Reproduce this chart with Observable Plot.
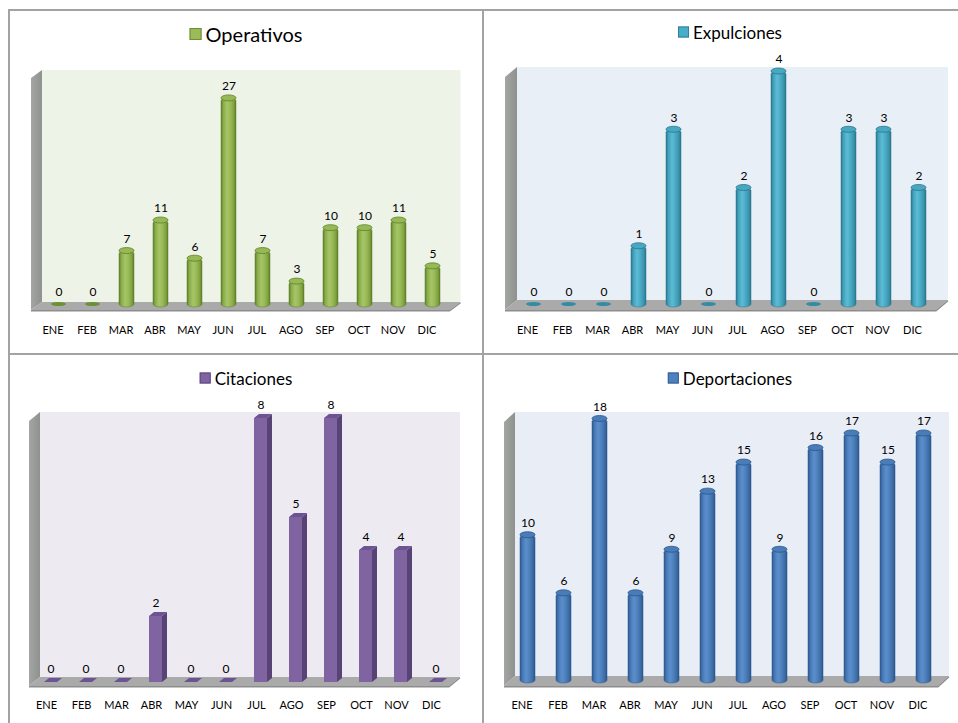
<!DOCTYPE html>
<html><head><meta charset="utf-8">
<script src="https://cdn.jsdelivr.net/npm/d3@7"></script>
<script src="https://cdn.jsdelivr.net/npm/@observablehq/plot@0.6"></script>
<style>
body{margin:0;background:#fff;font-family:Lato,sans-serif;}
#root{position:relative;width:958px;height:723px;overflow:hidden;background:#fff;}
.line{position:absolute;background:#a3a3a3;}
.panel{position:absolute;}
.legend{position:absolute;display:flex;align-items:center;white-space:nowrap;transform:translate(-50%,-50%);color:#000;font-family:Lato,sans-serif;}
.sw{display:inline-block;margin-right:4px;box-sizing:border-box;}
</style></head><body>
<svg width="0" height="0" style="position:absolute"><defs>
<linearGradient id="grad-op" x1="0" x2="1" y1="0" y2="0">
<stop offset="0" stop-color="#5f7f2a"/><stop offset="0.15" stop-color="#88ab47"/><stop offset="0.4" stop-color="#a6c568"/><stop offset="0.62" stop-color="#9bbb59"/><stop offset="0.86" stop-color="#7fa13f"/><stop offset="1" stop-color="#5d7d28"/>
</linearGradient>
<linearGradient id="grad-ex" x1="0" x2="1" y1="0" y2="0">
<stop offset="0" stop-color="#2a778d"/><stop offset="0.15" stop-color="#429fb9"/><stop offset="0.4" stop-color="#5dbcd5"/><stop offset="0.62" stop-color="#4bacc6"/><stop offset="0.86" stop-color="#3a93ab"/><stop offset="1" stop-color="#29758b"/>
</linearGradient>
<linearGradient id="grad-de" x1="0" x2="1" y1="0" y2="0">
<stop offset="0" stop-color="#2b5890"/><stop offset="0.15" stop-color="#4576b2"/><stop offset="0.4" stop-color="#5b8fcd"/><stop offset="0.62" stop-color="#4f81bd"/><stop offset="0.86" stop-color="#3d6ba5"/><stop offset="1" stop-color="#2a568d"/>
</linearGradient>
<linearGradient id="sidewall" x1="0" x2="1" y1="0" y2="0">
<stop offset="0" stop-color="#a4a6a4"/><stop offset="1" stop-color="#8f918f"/>
</linearGradient>
</defs></svg>
<div id="root"></div>
<script>
// ---- data ----
const months = ["ENE","FEB","MAR","ABR","MAY","JUN","JUL","AGO","SEP","OCT","NOV","DIC"];
const operativos    = [0, 0, 7, 11, 6, 27, 7, 3, 10, 10, 11, 5];
const expulciones   = [0, 0, 0, 1, 3, 0, 2, 4, 0, 3, 3, 2];
const citaciones    = [0, 0, 0, 2, 0, 0, 8, 5, 8, 4, 4, 0];
const deportaciones = [10, 6, 18, 6, 9, 13, 15, 9, 16, 17, 15, 17];

const panels = [
  {id:"op", name:"Operativos", values:operativos, kind:"cyl",
   box:{left:9, top:50, width:473, height:300}, L:36.5, R:455, T:75, base:304, ymax:30,
   wallTop:70, front:[-5.5,6], back:[5.5,-2], labelDx:-6, labelY:331,
   legend:{cx:246, cy:34, size:20, sw:12}, wall:"#eef3e7",
   swatch:"#9bbb59", swBorder:"#6f8c3a", cap:"#97b955", disk:"#6c9034", edge:"#5f7f2a"},
  {id:"ex", name:"Expulciones", values:expulciones, kind:"cyl",
   box:{left:483, top:50, width:475, height:300}, L:511, R:942, T:71, base:304, ymax:4,
   wallTop:67, front:[-6,6], back:[6,-4], labelDx:-6.5, labelY:331,
   legend:{cx:730, cy:32, size:17, sw:11}, wall:"#e8eff7",
   swatch:"#4bacc6", swBorder:"#2f8199", cap:"#48a8c2", disk:"#348ca4", edge:"#29758b"},
  {id:"ci", name:"Citaciones", values:citaciones, kind:"box",
   box:{left:9, top:395, width:473, height:328}, L:33, R:453, T:418, base:682, ymax:8,
   wallTop:412, front:[-4,4], back:[7,-5], labelDx:-4.5, labelY:706,
   legend:{cx:246, cy:378, size:17, sw:11}, wall:"#edeaf2",
   swatch:"#8064a2", swBorder:"#5c4780", front3d:"#8064a2", side:"#584377", top3d:"#6c5392"},
  {id:"de", name:"Deportaciones", values:deportaciones, kind:"cyl",
   box:{left:483, top:395, width:475, height:328}, L:509, R:943, T:418.5, base:680, ymax:18,
   wallTop:412, front:[-5,6], back:[6,-4], labelDx:-6, labelY:706,
   legend:{cx:730, cy:378, size:17, sw:11}, wall:"#e8edf6",
   swatch:"#4f81bd", swBorder:"#335f94", cap:"#4a7cb8", disk:"#3a679f", edge:"#2a568d"}
];

const root = document.getElementById("root");
function addLine(l,t,w,h){const d=document.createElement("div");d.className="line";Object.assign(d.style,{left:l+"px",top:t+"px",width:w+"px",height:h+"px"});root.appendChild(d);}
addLine(8,9,950,2);
addLine(8,9,2,714);
addLine(482,9,2,714);
addLine(8,353,950,2);

function wallsMark(c){
  return (index, scales, values, dim) => {
    const L = dim.marginLeft, R = dim.width - dim.marginRight, B = dim.height - dim.marginBottom;
    const top = c.wallTop - c.box.top;
    const [fx, fy] = c.front, [bx, by] = c.back;
    const g = d3.create("svg:g");
    g.append("rect").attr("x", L+bx).attr("y", top).attr("width", R-L).attr("height", B+by-top).attr("fill", c.wall);
    g.append("polygon").attr("points", [[L+fx, top+(fy-by)], [L+bx, top], [L+bx, B+by], [L+fx, B+fy]].join(" ")).attr("fill", "url(#sidewall)");
    g.append("polygon").attr("points", [[L+fx,B+fy],[R+fx,B+fy],[R+bx,B+by],[L+bx,B+by]].join(" ")).attr("fill", "#aaaaaa");
    g.append("polyline").attr("points", [[L+fx,B+fy+0.8],[R+fx,B+fy+0.8],[R+bx,B+by+0.8]].join(" ")).attr("fill","none").attr("stroke","#8d8d8d").attr("stroke-width",1.4);
    return g.node();
  };
}

function boxFacesMark(c, data){
  return (index, scales, values, dim) => {
    const x = scales.x, y = scales.y;
    const bw = typeof x.bandwidth === "function" ? x.bandwidth() : 13.5;
    const g = d3.create("svg:g");
    const ddx = 5, ddy = -4;
    for (const d of data) {
      const x0 = x(d.month), x1 = x0 + bw, yt = y(d.value), yb = y(0);
      if (d.value > 0) g.append("polygon").attr("points", [[x1,yt],[x1+ddx,yt+ddy],[x1+ddx,yb+ddy],[x1,yb]].join(" ")).attr("fill", c.side);
      g.append("polygon").attr("points", [[x0,yt],[x1,yt],[x1+ddx,yt+ddy],[x0+ddx,yt+ddy]].join(" ")).attr("fill", c.top3d);
    }
    return g.node();
  };
}

for (const c of panels) {
  const data = months.map((m, i) => ({month: m, value: c.values[i]}));
  const pad = c.kind === "cyl" ? 0.57 : 0.615;
  let barMarks;
  if (c.kind === "cyl") {
    barMarks = [
      Plot.barY(data.filter(d => d.value > 0), {x:"month", y1:0, y2:"value", fill:`url(#grad-${c.id})`, insetBottom:-3, rx:10, ry:3, stroke:c.edge, strokeWidth:0.5}),
      Plot.barY(data.filter(d => d.value > 0), {x:"month", y1:"value", y2:"value", insetTop:-3, insetBottom:-3, rx:10, ry:3, fill:c.cap, stroke:c.edge, strokeWidth:0.8}),
      Plot.barY(data.filter(d => d.value === 0), {x:"month", y1:"value", y2:"value", insetTop:-2, insetBottom:-2, rx:10, ry:2, fill:c.disk})
    ];
  } else {
    barMarks = [
      Plot.barY(data, {x:"month", y1:0, y2:"value", fill:c.front3d}),
      boxFacesMark(c, data)
    ];
  }
  const chart = Plot.plot({
    width: c.box.width, height: c.box.height,
    marginLeft: c.L - c.box.left,
    marginRight: c.box.left + c.box.width - c.R,
    marginTop: c.T - c.box.top,
    marginBottom: c.box.top + c.box.height - c.base,
    x: {domain: months, paddingInner: pad, paddingOuter: pad/2},
    y: {domain: [0, c.ymax], axis: null},
    style: {background: "transparent", overflow: "visible", fontFamily: "Lato, sans-serif", color: "#000"},
    marks: [
      wallsMark(c),
      ...barMarks,
      Plot.text(data, {x:"month", y:"value", text: d => String(d.value), dy: c.kind === "cyl" ? -12 : -13, fontSize: 12, fill:"#000"}),
      Plot.axisX({tickSize: 0, tickPadding: c.labelY - c.base - 5, dx: c.labelDx, fontSize: 11, label: null, fill:"#000"})
    ]
  });
  const holder = document.createElement("div");
  holder.className = "panel";
  Object.assign(holder.style, {left: c.box.left+"px", top: c.box.top+"px", width: c.box.width+"px", height: c.box.height+"px"});
  holder.appendChild(chart);
  root.appendChild(holder);

  const lg = document.createElement("div");
  lg.className = "legend";
  Object.assign(lg.style, {left: c.legend.cx+"px", top: c.legend.cy+"px", fontSize: c.legend.size+"px"});
  const sw = document.createElement("span");
  sw.className = "sw";
  Object.assign(sw.style, {width: c.legend.sw+"px", height: c.legend.sw+"px", background: c.swatch, border: "1px solid " + c.swBorder});
  lg.appendChild(sw);
  lg.appendChild(document.createTextNode(c.name));
  root.appendChild(lg);
}
</script>
</body></html>
